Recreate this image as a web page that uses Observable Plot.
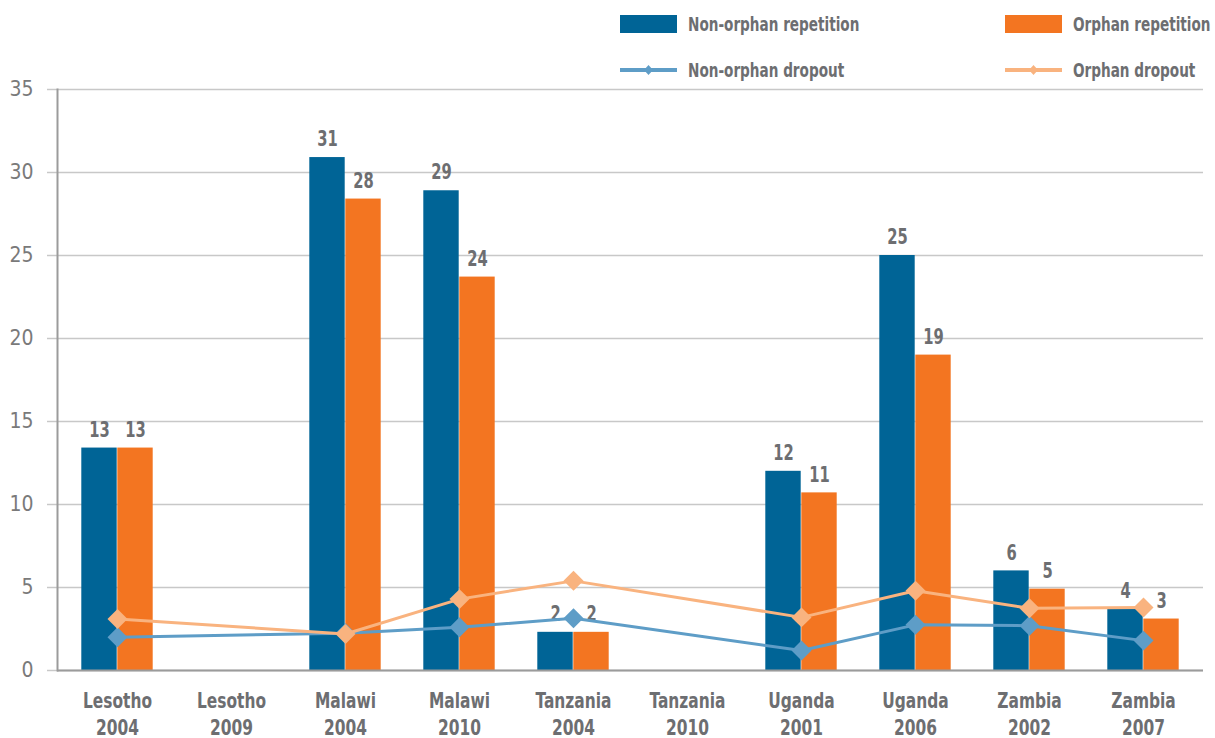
<!DOCTYPE html>
<html><head><meta charset="utf-8">
<script src="https://cdn.jsdelivr.net/npm/d3@7"></script>
<script src="https://cdn.jsdelivr.net/npm/@observablehq/plot@0.6"></script>
<style>
body{margin:0;background:#fff;font-family:"Liberation Sans Narrow","DejaVu Sans Condensed",sans-serif;}
#legend{display:block;position:relative;z-index:2;}
#chart{margin-top:-8px;position:relative;z-index:1;}
</style></head><body>
<svg id="legend" width="1215" height="88" xmlns="http://www.w3.org/2000/svg"></svg>
<div id="chart"></div>
<script>
const categories = ["Lesotho\n2004","Lesotho\n2009","Malawi\n2004","Malawi\n2010","Tanzania\n2004","Tanzania\n2010","Uganda\n2001","Uganda\n2006","Zambia\n2002","Zambia\n2007"];
const nonOrphanRepetition = [13.4, null, 30.9, 28.9, 2.3, null, 12.0, 25.0, 6.0, 3.7];
const orphanRepetition    = [13.4, null, 28.4, 23.7, 2.3, null, 10.7, 19.0, 4.9, 3.1];
const nonOrphanDropout    = [2.0, null, 2.25, 2.6, 3.15, null, 1.2, 2.75, 2.7, 1.8];
const orphanDropout       = [3.1, null, 2.2, 4.3, 5.4, null, 3.2, 4.8, 3.75, 3.8];
const yTicks = [0, 5, 10, 15, 20, 25, 30, 35];
const seriesNames = ["Non-orphan repetition", "Orphan repetition", "Non-orphan dropout", "Orphan dropout"];

const C = {nr:"#006496", or:"#f37521", nd:"#5e9dc7", od:"#f9b37f", text:"#6d6e71", grid:"#c8c8c8", axis:"#9b9b9b"};
const FONT = '"Liberation Sans Narrow","DejaVu Sans Condensed",sans-serif';
const SQUEEZE = 0.78;

// Legend (SVG above the chart)
const legend = document.getElementById("legend");
function addLegend(kind, color, x, y, label) {
  let html = "";
  if (kind === "bar") {
    html += `<rect x="${x}" y="${y - 9}" width="57" height="18" fill="${color}"/>`;
  } else {
    html += `<line x1="${x}" x2="${x + 57}" y1="${y}" y2="${y}" stroke="${color}" stroke-width="4"/>`;
    html += `<path d="M${x + 28.5} ${y - 5} L${x + 33} ${y} L${x + 28.5} ${y + 5} L${x + 24} ${y}Z" fill="${color}"/>`;
  }
  html += `<text transform="translate(${x + 68},${y}) scale(${SQUEEZE * 0.97},1)" dy="0.36em" font-family='${FONT}' font-weight="bold" font-size="20" fill="${C.text}">${label}</text>`;
  legend.insertAdjacentHTML("beforeend", html);
}
addLegend("bar", C.nr, 620, 24, seriesNames[0]);
addLegend("bar", C.or, 1005, 24, seriesNames[1]);
addLegend("line", C.nd, 620, 70, seriesNames[2]);
addLegend("line", C.od, 1005, 70, seriesNames[3]);

// Chart
const W = 1215, H = 658, mL = 57, mR = 12, mT = 9, mB = 68;
const bw = (W - mL - mR) / categories.length;
const barW = 36;
const rows = categories.map((c, i) => ({cat: c, nr: nonOrphanRepetition[i], or: orphanRepetition[i], nd: nonOrphanDropout[i], od: orphanDropout[i]}));
const nrRows = rows.filter(d => d.nr != null);
const orRows = rows.filter(d => d.or != null);
const ndRows = rows.filter(d => d.nd != null);
const odRows = rows.filter(d => d.od != null);

const chart = Plot.plot({
  width: W, height: H,
  marginLeft: mL, marginRight: mR, marginTop: mT, marginBottom: mB,
  x: {type: "band", domain: categories, padding: 0, axis: null},
  y: {domain: [0, 35], axis: null},
  style: {fontFamily: FONT, color: C.text, background: "transparent", overflow: "visible"},
  marks: [
    Plot.gridY(yTicks, {stroke: C.grid, strokeOpacity: 1, strokeWidth: 1.5}),
    Plot.axisY({ticks: yTicks, tickSize: 10, tickPadding: 14, stroke: C.grid, strokeWidth: 1.5, fill: "#7a7a7a", fontSize: 21, label: null}),
    Plot.barY(nrRows, {x: "cat", y: "nr", fill: C.nr, insetLeft: bw/2 - barW, insetRight: bw/2}),
    Plot.barY(orRows, {x: "cat", y: "or", fill: C.or, insetLeft: bw/2, insetRight: bw/2 - barW}),
    Plot.ruleY([0], {stroke: C.axis, strokeWidth: 2}),
    Plot.frame({anchor: "left", stroke: C.axis, strokeWidth: 2}),
    Plot.text(nrRows, {x: "cat", y: "nr", text: d => Math.round(d.nr), dx: -barW/2, dy: -18, fontWeight: "bold", fontSize: 21, fill: C.text, className: "narrow"}),
    Plot.text(orRows, {x: "cat", y: "or", text: d => Math.round(d.or), dx: barW/2, dy: -18, fontWeight: "bold", fontSize: 21, fill: C.text, className: "narrow"}),
    Plot.line(ndRows, {x: "cat", y: "nd", stroke: C.nd, strokeWidth: 3}),
    Plot.dot(ndRows, {x: "cat", y: "nd", symbol: "diamond2", r: 9, fill: C.nd, stroke: null}),
    Plot.line(odRows, {x: "cat", y: "od", stroke: C.od, strokeWidth: 3}),
    Plot.dot(odRows, {x: "cat", y: "od", symbol: "diamond2", r: 9, fill: C.od, stroke: null}),
    Plot.text(categories, {x: d => d, frameAnchor: "bottom", lineAnchor: "top", dy: 19, fontSize: 22, fontWeight: "bold", lineHeight: 1.2, fill: C.text, className: "narrow"})
  ]
});
// condense bold labels horizontally (no narrow font installed)
chart.querySelectorAll(".narrow text").forEach(t => {
  const tr = t.getAttribute("transform") || "";
  t.setAttribute("transform", tr + ` scale(${SQUEEZE},1)`);
});
document.getElementById("chart").appendChild(chart);
</script>
</body></html>
